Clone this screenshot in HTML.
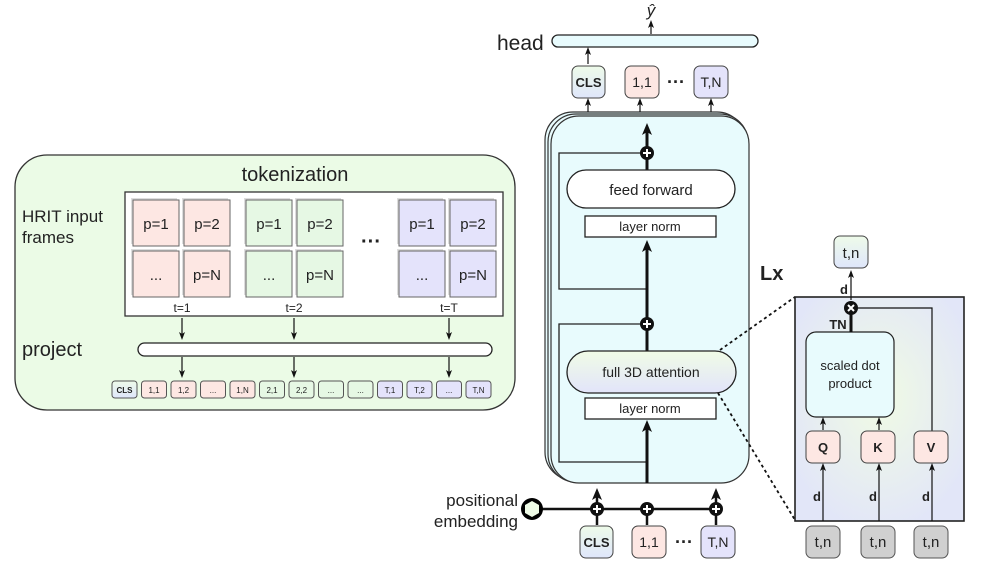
<!DOCTYPE html>
<html><head><meta charset="utf-8"><style>
body{margin:0;background:#fff}
svg{display:block}
text{font-family:"Liberation Sans",sans-serif;fill:#222}
</style></head><body>
<svg width="996" height="561" viewBox="0 0 996 561" xmlns="http://www.w3.org/2000/svg">
<defs>
<marker id="a" markerWidth="8" markerHeight="8" refX="4" refY="4" orient="auto" markerUnits="userSpaceOnUse"><path d="M0,1 L8,4 L0,7 L2,4 Z" fill="#111"/></marker>
<marker id="b" markerWidth="12" markerHeight="12" refX="6" refY="6" orient="auto" markerUnits="userSpaceOnUse"><path d="M0,1 L12,6 L0,11 L3,6 Z" fill="#111"/></marker>
<linearGradient id="cls" x1="0" y1="0" x2="0" y2="1"><stop offset="0" stop-color="#eefbe9"/><stop offset="1" stop-color="#dfe6fb"/></linearGradient>
<linearGradient id="att" x1="0" y1="0" x2="0" y2="1"><stop offset="0" stop-color="#f0fce6"/><stop offset="1" stop-color="#e2e4fa"/></linearGradient>
<radialGradient id="rb" cx="0.5" cy="0.45" r="0.6"><stop offset="0" stop-color="#f0fbe4"/><stop offset="1" stop-color="#e2e6f8"/></radialGradient>
</defs>

<rect x="15" y="155" width="500" height="255" rx="32" fill="#ebfbe6" stroke="#333" stroke-width="1.3"/>
<text x="295" y="181" font-size="20" text-anchor="middle">tokenization</text>
<text x="22" y="222" font-size="17">HRIT input</text>
<text x="22" y="243" font-size="17">frames</text>
<rect x="125" y="192" width="378" height="124" fill="#fff" stroke="#333" stroke-width="1.3"/>
<g fill="#ddd">
<rect x="131" y="198" width="46" height="46"/><rect x="182" y="198" width="46" height="46"/><rect x="131" y="249" width="46" height="46"/><rect x="182" y="249" width="46" height="46"/>
<rect x="244" y="198" width="46" height="46"/><rect x="295" y="198" width="46" height="46"/><rect x="244" y="249" width="46" height="46"/><rect x="295" y="249" width="46" height="46"/>
<rect x="397" y="198" width="46" height="46"/><rect x="448" y="198" width="46" height="46"/><rect x="397" y="249" width="46" height="46"/><rect x="448" y="249" width="46" height="46"/>
</g>
<g stroke="#666" stroke-width="1">
<rect x="133" y="200" width="46" height="46" fill="#fde7e3"/><rect x="184" y="200" width="46" height="46" fill="#fde7e3"/>
<rect x="133" y="251" width="46" height="46" fill="#fde7e3"/><rect x="184" y="251" width="46" height="46" fill="#fde7e3"/>
<rect x="246" y="200" width="46" height="46" fill="#e6f8e4"/><rect x="297" y="200" width="46" height="46" fill="#e6f8e4"/>
<rect x="246" y="251" width="46" height="46" fill="#e6f8e4"/><rect x="297" y="251" width="46" height="46" fill="#e6f8e4"/>
<rect x="399" y="200" width="46" height="46" fill="#e4e3fb"/><rect x="450" y="200" width="46" height="46" fill="#e4e3fb"/>
<rect x="399" y="251" width="46" height="46" fill="#e4e3fb"/><rect x="450" y="251" width="46" height="46" fill="#e4e3fb"/>
</g>
<g font-size="15" text-anchor="middle">
<text x="156" y="229">p=1</text><text x="207" y="229">p=2</text><text x="156" y="280">...</text><text x="207" y="280">p=N</text>
<text x="269" y="229">p=1</text><text x="320" y="229">p=2</text><text x="269" y="280">...</text><text x="320" y="280">p=N</text>
<text x="422" y="229">p=1</text><text x="473" y="229">p=2</text><text x="422" y="280">...</text><text x="473" y="280">p=N</text>
<text x="371" y="248" font-size="20" font-weight="bold">···</text>
</g>
<g font-size="12" text-anchor="middle"><text x="182" y="312">t=1</text><text x="294" y="312">t=2</text><text x="449" y="312">t=T</text></g>
<g stroke="#111" stroke-width="1.2" marker-end="url(#a)">
<line x1="182" y1="318" x2="182" y2="336"/><line x1="294" y1="318" x2="294" y2="336"/><line x1="449" y1="318" x2="449" y2="336"/>
<line x1="182" y1="357" x2="182" y2="374"/><line x1="294" y1="357" x2="294" y2="374"/><line x1="449" y1="357" x2="449" y2="374"/>
</g>
<text x="22" y="356" font-size="20">project</text>
<rect x="138" y="343" width="354" height="13" rx="6.5" fill="#fff" stroke="#222" stroke-width="1.3"/>
<g stroke="#555" stroke-width="1">
<rect x="112" y="381" width="25" height="17" rx="3" fill="url(#cls)"/>
<rect x="141.5" y="381" width="25" height="17" rx="3" fill="#fde7e3"/>
<rect x="171" y="381" width="25" height="17" rx="3" fill="#fde7e3"/>
<rect x="200.5" y="381" width="25" height="17" rx="3" fill="#fde7e3"/>
<rect x="230" y="381" width="25" height="17" rx="3" fill="#fde7e3"/>
<rect x="259.5" y="381" width="25" height="17" rx="3" fill="#e6f8e4"/>
<rect x="289" y="381" width="25" height="17" rx="3" fill="#e6f8e4"/>
<rect x="318.5" y="381" width="25" height="17" rx="3" fill="#e6f8e4"/>
<rect x="348" y="381" width="25" height="17" rx="3" fill="#e6f8e4"/>
<rect x="377.5" y="381" width="25" height="17" rx="3" fill="#e4e3fb"/>
<rect x="407" y="381" width="25" height="17" rx="3" fill="#e4e3fb"/>
<rect x="436.5" y="381" width="25" height="17" rx="3" fill="#e4e3fb"/>
<rect x="466" y="381" width="25" height="17" rx="3" fill="#e4e3fb"/>
</g>
<g font-size="8" text-anchor="middle">
<text x="124.5" y="393" font-weight="bold">CLS</text><text x="154" y="393">1,1</text><text x="183.5" y="393">1,2</text><text x="213" y="393">...</text><text x="242.5" y="393">1,N</text><text x="272" y="393">2,1</text><text x="301.5" y="393">2,2</text><text x="331" y="393">...</text><text x="360.5" y="393">...</text><text x="390" y="393">T,1</text><text x="419.5" y="393">T,2</text><text x="449" y="393">...</text><text x="478.5" y="393">T,N</text>
</g>

<rect x="545" y="112" width="200" height="368" rx="28" fill="#e8fbfd" stroke="#333" stroke-width="1.2"/>
<rect x="548" y="114" width="200" height="368" rx="28" fill="#e8fbfd" stroke="#333" stroke-width="1.2"/>
<rect x="551" y="116" width="198" height="367" rx="28" fill="#e8fbfd" stroke="#333" stroke-width="1.2"/>
<g stroke="#222" stroke-width="1.3" fill="none">
<polyline points="647,153 559,153 559,289 647,289"/>
<polyline points="647,324 559,324 559,462 647,462"/>
</g>
<g stroke="#111" stroke-width="3" fill="none">
<line x1="647" y1="483" x2="647" y2="426" marker-end="url(#b)"/>
<line x1="647" y1="351" x2="647" y2="324"/>
<line x1="647" y1="324" x2="647" y2="246" marker-end="url(#b)"/>
<line x1="647" y1="170" x2="647" y2="153"/>
<line x1="647" y1="153" x2="647" y2="129" marker-end="url(#b)"/>
</g>
<rect x="567" y="170" width="168" height="38" rx="19" fill="#fff" stroke="#222" stroke-width="1.3"/>
<text x="651" y="195" font-size="15" text-anchor="middle">feed forward</text>
<rect x="585" y="216" width="131" height="21" fill="#fff" stroke="#222" stroke-width="1.3"/>
<text x="650" y="231" font-size="13" text-anchor="middle">layer norm</text>
<rect x="567" y="351" width="169" height="42" rx="21" fill="url(#att)" stroke="#222" stroke-width="1.3"/>
<text x="651" y="377" font-size="14" text-anchor="middle">full 3D attention</text>
<rect x="585" y="398" width="131" height="21" fill="#fff" stroke="#222" stroke-width="1.3"/>
<text x="650" y="413" font-size="13" text-anchor="middle">layer norm</text>
<g>
<circle cx="647" cy="153" r="7" fill="#111"/><path d="M643,153h8M647,149v8" stroke="#fff" stroke-width="2"/>
<circle cx="647" cy="324" r="7" fill="#111"/><path d="M643,324h8M647,320v8" stroke="#fff" stroke-width="2"/>
</g>
<text x="760" y="280" font-size="20" font-weight="bold">Lx</text>

<text x="497" y="50" font-size="21">head</text>
<rect x="552" y="35" width="206" height="12" rx="6" fill="#e8fbfd" stroke="#222" stroke-width="1.3"/>
<text x="651" y="16" font-size="17" font-style="italic" font-family="Liberation Serif" text-anchor="middle">ŷ</text>
<g stroke="#111" stroke-width="1.2" marker-end="url(#a)">
<line x1="651" y1="34" x2="651" y2="24"/>
<line x1="588" y1="64" x2="588" y2="51"/>
<line x1="588" y1="112" x2="588" y2="102"/><line x1="640" y1="112" x2="640" y2="102"/><line x1="711" y1="112" x2="711" y2="102"/>
</g>
<rect x="572" y="66" width="33" height="32" rx="6" fill="url(#cls)" stroke="#444"/>
<rect x="625" y="66" width="34" height="32" rx="6" fill="#fde7e3" stroke="#444"/>
<rect x="694" y="66" width="34" height="32" rx="6" fill="#e4e3fb" stroke="#444"/>
<g font-size="14" text-anchor="middle"><text x="588.5" y="87" font-weight="bold" font-size="13">CLS</text><text x="642" y="87">1,1</text><text x="711" y="87">T,N</text><text x="676" y="88" font-weight="bold" font-size="18">···</text></g>

<text x="518" y="506" font-size="17" text-anchor="end">positional</text>
<text x="518" y="527" font-size="17" text-anchor="end">embedding</text>
<line x1="532" y1="509" x2="716" y2="509" stroke="#111" stroke-width="2.5"/>
<circle cx="532" cy="509" r="11" fill="#000"/>
<polygon points="532,501 539,505 539,513 532,517 525,513 525,505" fill="#eefbe6"/>
<g stroke="#111" stroke-width="2.5">
<line x1="597" y1="525" x2="597" y2="509"/><line x1="647" y1="525" x2="647" y2="509"/><line x1="716" y1="525" x2="716" y2="509"/>
<line x1="597" y1="509" x2="597" y2="494" marker-end="url(#b)"/><line x1="716" y1="509" x2="716" y2="494" marker-end="url(#b)"/>
</g>
<g>
<circle cx="597" cy="509" r="7" fill="#111"/><path d="M593,509h8M597,505v8" stroke="#fff" stroke-width="2"/>
<circle cx="647" cy="509" r="7" fill="#111"/><path d="M643,509h8M647,505v8" stroke="#fff" stroke-width="2"/>
<circle cx="716" cy="509" r="7" fill="#111"/><path d="M712,509h8M716,505v8" stroke="#fff" stroke-width="2"/>
</g>
<rect x="580" y="526" width="33" height="32" rx="6" fill="url(#cls)" stroke="#444"/>
<rect x="632" y="526" width="34" height="32" rx="6" fill="#fde7e3" stroke="#444"/>
<rect x="701" y="526" width="34" height="32" rx="6" fill="#e4e3fb" stroke="#444"/>
<g font-size="14" text-anchor="middle"><text x="596.5" y="547" font-weight="bold" font-size="13">CLS</text><text x="649" y="547">1,1</text><text x="718" y="547">T,N</text><text x="684" y="548" font-weight="bold" font-size="18">···</text></g>

<g stroke="#111" stroke-width="1.8" stroke-dasharray="3,3"><line x1="720" y1="350" x2="795" y2="297"/><line x1="718" y1="393" x2="795" y2="520"/></g>
<rect x="795" y="297" width="169" height="224" fill="url(#rb)" stroke="#222" stroke-width="1.6"/>
<rect x="806" y="332" width="88" height="85" rx="10" fill="#e8fbfd" stroke="#222" stroke-width="1.2"/>
<text x="850" y="370" font-size="13" text-anchor="middle">scaled dot</text>
<text x="850" y="388" font-size="13" text-anchor="middle">product</text>
<g stroke="#111" stroke-width="1.2">
<line x1="823" y1="521" x2="823" y2="467" marker-end="url(#a)"/><line x1="879" y1="521" x2="879" y2="467" marker-end="url(#a)"/><line x1="932" y1="521" x2="932" y2="467" marker-end="url(#a)"/>
<line x1="823" y1="430" x2="823" y2="421" marker-end="url(#a)"/><line x1="879" y1="430" x2="879" y2="421" marker-end="url(#a)"/>
<polyline points="932,431 932,308 851,308" fill="none"/>
<line x1="851" y1="300" x2="851" y2="274" marker-end="url(#a)"/>
</g>
<line x1="851" y1="332" x2="851" y2="308" stroke="#111" stroke-width="3"/>
<circle cx="851" cy="308" r="7" fill="#111"/><path d="M848,305l6,6M854,305l-6,6" stroke="#fff" stroke-width="2"/>
<rect x="806" y="431" width="34" height="32" rx="6" fill="#fde7e3" stroke="#444"/>
<rect x="861" y="431" width="34" height="32" rx="6" fill="#fde7e3" stroke="#444"/>
<rect x="914" y="431" width="34" height="32" rx="6" fill="#fde7e3" stroke="#444"/>
<g font-size="13" font-weight="bold" text-anchor="middle"><text x="823" y="452">Q</text><text x="878" y="452">K</text><text x="931" y="452">V</text>
<text x="817" y="501">d</text><text x="873" y="501">d</text><text x="926" y="501">d</text><text x="844" y="294">d</text><text x="838" y="329">TN</text></g>
<rect x="834" y="236" width="34" height="32" rx="6" fill="url(#cls)" stroke="#444"/>
<g fill="#d0d0d0" stroke="#555"><rect x="806" y="526" width="34" height="32" rx="6"/><rect x="861" y="526" width="34" height="32" rx="6"/><rect x="914" y="526" width="34" height="32" rx="6"/></g>
<g font-size="15" text-anchor="middle"><text x="851" y="258">t,n</text><text x="823" y="547">t,n</text><text x="878" y="547">t,n</text><text x="931" y="547">t,n</text></g>
</svg>
</body></html>
